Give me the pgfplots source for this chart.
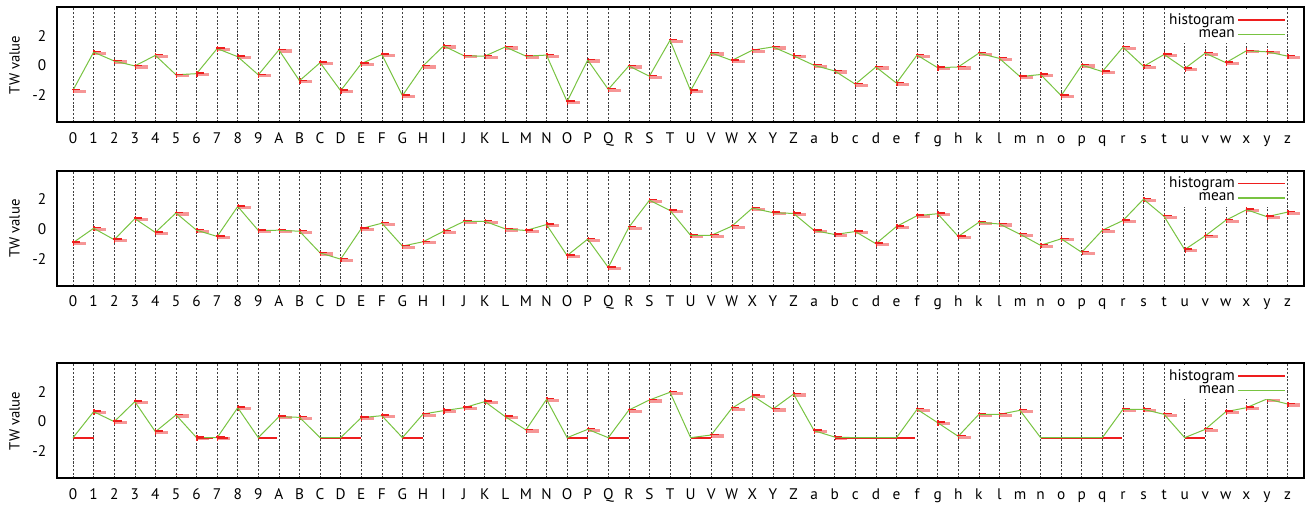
\documentclass[border=0pt]{standalone}
\usepackage{pgfplots}
\pgfplotsset{compat=1.18}
\usepackage{pgfplotstable}
\usepackage{fontspec}
\setmainfont{PT Sans}
\definecolor{histred}{RGB}{238,30,30}
\definecolor{histpink}{RGB}{246,150,150}
\definecolor{meangreen}{RGB}{120,195,65}

\pgfplotstableread{
x y
0 -1.67
1 0.89
2 0.29
3 -0.04
4 0.67
5 -0.64
6 -0.56
7 1.13
8 0.58
9 -0.64
10 1.04
11 -1.04
12 0.18
13 -1.71
14 0.11
15 0.73
16 -2.04
17 -0.04
18 1.31
19 0.64
20 0.62
21 1.24
22 0.62
23 0.69
24 -2.44
25 0.36
26 -1.62
27 -0.04
28 -0.73
29 1.69
30 -1.71
31 0.84
32 0.33
33 1.02
34 1.24
35 0.64
36 0.00
37 -0.38
38 -1.27
39 -0.11
40 -1.20
41 0.69
42 -0.16
43 -0.11
44 0.82
45 0.47
46 -0.76
47 -0.62
48 -2.04
49 0.02
50 -0.42
51 1.22
52 -0.07
53 0.73
54 -0.22
55 0.82
56 0.18
57 0.98
58 0.91
59 0.62
}\Pone

\pgfplotstableread{
x y
0 -0.93
1 0.04
2 -0.73
3 0.69
4 -0.24
5 1.07
6 -0.09
7 -0.51
8 1.51
9 -0.11
10 -0.09
11 -0.16
12 -1.62
13 -2.04
14 0.02
15 0.38
16 -1.16
17 -0.87
18 -0.16
19 0.51
20 0.51
21 0.00
22 -0.11
23 0.29
24 -1.80
25 -0.69
26 -2.60
27 0.11
28 1.93
29 1.24
30 -0.44
31 -0.44
32 0.18
33 1.40
34 1.09
35 1.04
36 -0.11
37 -0.38
38 -0.18
39 -1.00
40 0.16
41 0.89
42 1.02
43 -0.51
44 0.44
45 0.33
46 -0.36
47 -1.11
48 -0.67
49 -1.58
50 -0.09
51 0.56
52 2.00
53 0.84
54 -1.40
55 -0.47
56 0.58
57 1.29
58 0.82
59 1.13
}\Ptwo

% panel 3: means
\pgfplotstableread{
x y
0 -1.10
1 0.65
2 -0.02
3 1.33
4 -0.70
5 0.43
6 -1.10
7 -1.10
8 0.92
9 -1.10
10 0.31
11 0.27
12 -1.10
13 -1.10
14 0.25
15 0.38
16 -1.10
17 0.49
18 0.72
19 0.92
20 1.33
21 0.31
22 -0.58
23 1.48
24 -1.10
25 -0.54
26 -1.10
27 0.76
28 1.44
29 1.96
30 -1.10
31 -0.92
32 0.88
33 1.73
34 0.83
35 1.84
36 -0.63
37 -1.06
38 -1.10
39 -1.10
40 -1.10
41 0.81
42 -0.09
43 -1.01
44 0.47
45 0.47
46 0.74
47 -1.10
48 -1.10
49 -1.10
50 -1.10
51 0.81
52 0.81
53 0.47
54 -1.10
55 -0.54
56 0.65
57 0.92
58 1.51
59 1.17
}\Pthree

% panel 3: histograms of the non-constant series
\pgfplotstableread{
x y
1 0.65
2 -0.02
3 1.33
4 -0.70
5 0.43
6 -1.10
7 -1.10
8 0.92
10 0.31
11 0.27
14 0.25
15 0.38
17 0.49
18 0.72
19 0.92
20 1.33
21 0.31
22 -0.58
23 1.48
25 -0.54
27 0.76
28 1.44
29 1.96
31 -0.92
32 0.88
33 1.73
34 0.83
35 1.84
36 -0.63
37 -1.06
41 0.81
42 -0.09
43 -1.01
44 0.47
45 0.47
46 0.74
51 0.81
52 0.81
53 0.47
55 -0.54
56 0.65
57 0.92
58 1.51
59 1.17
}\PthreeH

% panel 3: constant series (single-bin histograms), segments separated by nan
\pgfplotstableread{
x y
0 -1.10
1 -1.10
nan nan
6 -1.10
6.8 -1.10
nan nan
7 -1.10
7.55 -1.10
nan nan
9 -1.10
9.9 -1.10
nan nan
12 -1.10
14 -1.10
nan nan
16 -1.10
17 -1.10
nan nan
24 -1.10
25 -1.10
nan nan
26 -1.10
27 -1.10
nan nan
30 -1.10
31 -1.10
nan nan
37 -1.10
40.9 -1.10
nan nan
47 -1.10
50.95 -1.10
nan nan
54 -1.10
55 -1.10
}\PthreeF

\newcommand{\histo}[1]{%
  \addplot[forget plot, color=histpink, line width=2.4pt, quiver={u=0.62,v=0}]
    table[x=x, y expr=\thisrow{y}-0.07] {#1};
  \addplot[forget plot, color=histred, line width=0.9pt, quiver={u=0,v=0.36}]
    table[x expr=\thisrow{x}+0.02, y expr=\thisrow{y}-0.2] {#1};
}
\newcommand{\histotop}[1]{%
  \addplot[forget plot, color=histred, line width=1pt, quiver={u=0.4,v=0}]
    table[x expr=\thisrow{x}-0.04, y expr=\thisrow{y}+0.04] {#1};
}
\newcommand{\legendstuff}{%
  \addlegendimage{histred, line width=1.25pt}
  \addlegendentry{histogram}
  \addlegendimage{meangreen, line width=0.9pt}
  \addlegendentry{mean}
}

\pgfplotsset{
  panel/.style={
    scale only axis, width=935pt, height=86.25pt,
    xmin=-0.78, xmax=59.78, ymin=-3.85, ymax=3.9,
    xtick={0,...,59},
    xticklabels={0,1,2,3,4,5,6,7,8,9,A,B,C,D,E,F,G,H,I,J,K,L,M,N,O,P,Q,R,S,T,U,V,W,X,Y,Z,a,b,c,d,e,f,g,h,k,l,m,n,o,p,q,r,s,t,u,v,w,x,y,z},
    ytick={-2,0,2},
    major tick length=0pt,
    axis line style={line width=1.5pt},
    xmajorgrids,
    grid style={black!75, line width=0.45pt, dash pattern=on 1.6pt off 1.2pt},
    tick label style={font=\fontsize{11.5}{13}\selectfont},
    /pgf/number format/assume math mode=true,
    xticklabel style={inner sep=0pt, text height=8pt, text depth=2.5pt, yshift=-7.2pt},
    yticklabel style={inner sep=0pt, xshift=-7.9pt},
    ylabel={TW value},
    ylabel style={at={(axis description cs:-0.034,0.5)}, anchor=center, font=\fontsize{11}{13}\selectfont},
    legend style={draw=none, fill=white, at={(rel axis cs:0.987,0.985)}, anchor=north east,
      font=\fontsize{11.5}{11.5}\selectfont, inner sep=1pt, row sep=-1.6pt,
      /tikz/every even column/.append style={column sep=6pt}},
    legend cell align=right,
    legend plot pos=right,
    legend image code/.code={\draw[#1] (0pt,0pt) -- (35pt,0pt);},
    unbounded coords=jump,
  }
}

\begin{document}
\begin{tikzpicture}
\path[use as bounding box] (0,0) rectangle (982.5pt,-378.75pt);

\begin{axis}[panel, at={(42.75pt,-5.6pt)}, anchor=north west]
\legendstuff
\histo{\Pone}
\addplot[forget plot, color=meangreen, line width=0.75pt] table[x=x,y=y] {\Pone};
\histotop{\Pone}
\end{axis}

\begin{axis}[panel, at={(42.75pt,-128.25pt)}, anchor=north west]
\legendstuff
\histo{\Ptwo}
\addplot[forget plot, color=meangreen, line width=0.75pt] table[x=x,y=y] {\Ptwo};
\histotop{\Ptwo}
\end{axis}

\begin{axis}[panel, at={(42.75pt,-272.6pt)}, anchor=north west]
\legendstuff
\histo{\PthreeH}
\addplot[forget plot, color=histred, line width=1.3pt, mark=none] table[x=x, y=y] {\PthreeF};
\addplot[forget plot, color=meangreen, line width=0.75pt] table[x=x,y=y] {\Pthree};
\histotop{\PthreeH}
\end{axis}
\end{tikzpicture}
\end{document}
